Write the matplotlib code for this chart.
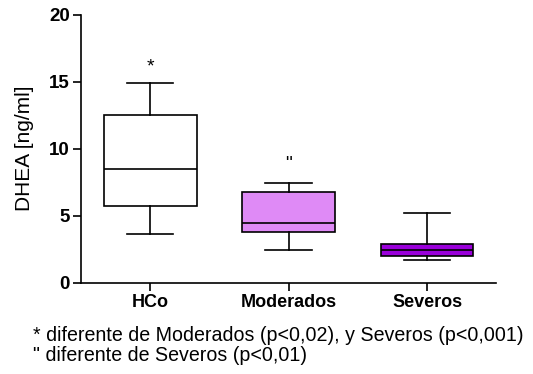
import matplotlib
matplotlib.use("Agg")
import matplotlib.pyplot as plt

plt.rcParams['font.family'] = ['Liberation Sans', 'DejaVu Sans']

# Box statistics per group (ng/ml)
groups = ['HCo', 'Moderados', 'Severos']
whislo = [3.6, 2.45, 1.67]
q1 = [5.75, 3.75, 2.0]
med = [8.45, 4.48, 2.44]
q3 = [12.5, 6.75, 2.87]
whishi = [14.9, 7.42, 5.2]
box_colors = ['white', '#DF8AF6', '#9A00DA']
marks = ['*', '"']
mark_y = [16.1, 8.8]

stats = []
for i, g in enumerate(groups):
    stats.append({'label': g, 'whislo': whislo[i], 'q1': q1[i], 'med': med[i],
                  'q3': q3[i], 'whishi': whishi[i], 'fliers': []})

fig = plt.figure(figsize=(5.33, 3.74), dpi=100)
ax = fig.add_axes([0.152, 0.244, 0.779, 0.717])

lw = 1.2
bp = ax.bxp(stats, positions=[1, 2, 3], widths=0.67, patch_artist=True,
            showfliers=False,
            boxprops=dict(linewidth=lw, edgecolor='black'),
            medianprops=dict(color='black', linewidth=lw),
            whiskerprops=dict(color='black', linewidth=lw),
            capprops=dict(color='black', linewidth=lw))
for patch, c in zip(bp['boxes'], box_colors):
    patch.set_facecolor(c)

for i, m in enumerate(marks):
    ax.text(i + 1, mark_y[i], m, ha='center', va='center', fontsize=14)

ax.set_xlim(0.5, 3.5)
ax.set_ylim(0, 20)
ax.set_yticks([0, 5, 10, 15, 20])
ax.set_xticks([1, 2, 3])
ax.set_xticklabels(groups, fontweight='bold', fontsize=13)
for t in ax.get_yticklabels():
    t.set_fontweight('bold')
    t.set_fontsize(13.5)
ax.set_ylabel('DHEA [ng/ml]', fontsize=15, labelpad=11)

ax.spines['top'].set_visible(False)
ax.spines['right'].set_visible(False)
ax.spines['left'].set_linewidth(lw)
ax.spines['bottom'].set_linewidth(lw)
ax.tick_params(direction='out', length=6, width=lw, pad=2)

# footnotes with significance marks
fig.text(0.062, 0.087, '* diferente de Moderados (p<0,02), y Severos (p<0,001)', fontsize=14.1, va='baseline')
fig.text(0.062, 0.034, '" diferente de Severos (p<0,01)', fontsize=14.1, va='baseline')

fig.savefig('out.png', dpi=100)
